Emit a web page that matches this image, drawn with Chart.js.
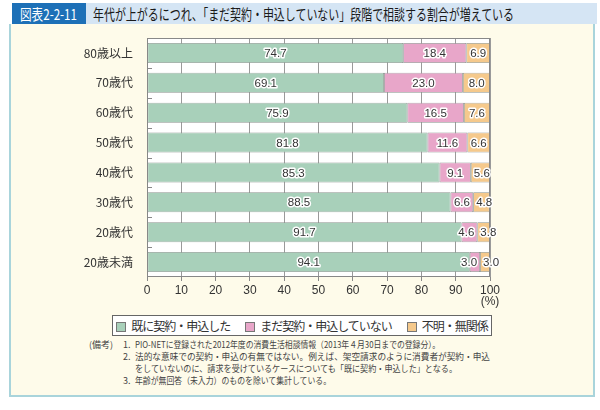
<!DOCTYPE html>
<html>
<head>
<meta charset="utf-8">
<script src="https://cdn.jsdelivr.net/npm/chart.js@4.4.0/dist/chart.umd.min.js"></script>
<style>
body { margin: 0; width: 600px; height: 410px; background: #fff; position: relative; overflow: hidden;
       font-family: "Noto Sans CJK JP", sans-serif; color: #333; }
#hdr { position: absolute; left: 12px; top: 3px; width: 585px; height: 21px; background: #d5e5f4; }
#num { position: absolute; left: 0; top: 0; width: 74px; height: 21px; background: #1d70b7; }
.fit { position: absolute; display: inline-block; white-space: nowrap; transform-origin: left center; }
#num span { left: 8px; top: 0; color: #fff; font-size: 15px; line-height: 21px; }
#ttl { left: 81px; top: 0; font-size: 15px; line-height: 21px; color: #1a1a1a; }
#panel { position: absolute; left: 9px; top: 24px; width: 582px; height: 371px; background: #fefbea;
         border: 2px solid #a9d4db; border-top: none; }
#chartWrap { position: absolute; left: 0; top: 24px; width: 600px; height: 286px; }
#legend { position: absolute; left: 112px; top: 315px; width: 378px; height: 19px; background: #fff;
          border: 1px solid #666; display: flex; align-items: center; justify-content: center; gap: 15px;
          font-size: 12px; letter-spacing: -1px; white-space: nowrap; }
#legend span { white-space: nowrap; flex: none; }
#legend i { display: inline-block; width: 8px; height: 8px; border: 1px solid #777; margin-right: 5px; vertical-align: -1px; }
.note { font-size: 9px; line-height: 12px; color: #444; }
</style>
</head>
<body>
<div id="hdr">
  <div id="num"><span class="fit" data-w="57">図表2-2-11</span></div>
  <span id="ttl" class="fit" data-w="421">年代が上がるにつれ、「まだ契約・申込していない」段階で相談する割合が増えている</span>
</div>
<div id="panel"></div>
<div id="chartWrap"><canvas id="ageChart" width="600" height="286"></canvas></div>
<div id="legend"></div>
<span class="fit note" style="left:89px;top:339px" data-w="24">(備考)</span>
<span class="fit note" style="left:123px;top:339px">1.</span>
<span class="fit note" style="left:135px;top:339px" data-w="305">PIO-NETに登録された2012年度の消費生活相談情報（2013年４月30日までの登録分）。</span>
<span class="fit note" style="left:123px;top:351px">2.</span>
<span class="fit note" style="left:135px;top:351px" data-w="355">法的な意味での契約・申込の有無ではない。例えば、架空請求のように消費者が契約・申込</span>
<span class="fit note" style="left:135px;top:363px" data-w="322">をしていないのに、請求を受けているケースについても「既に契約・申込した」となる。</span>
<span class="fit note" style="left:123px;top:375px">3.</span>
<span class="fit note" style="left:135px;top:375px" data-w="196">年齢が無回答（未入力）のものを除いて集計している。</span>

<script>
// data
const ageGroups = ['80歳以上', '70歳代', '60歳代', '50歳代', '40歳代', '30歳代', '20歳代', '20歳未満'];
const seriesNames = ['既に契約・申込した', 'まだ契約・申込していない', '不明・無関係'];
const contracted = [74.7, 69.1, 75.9, 81.8, 85.3, 88.5, 91.7, 94.1];
const notYet = [18.4, 23.0, 16.5, 11.6, 9.1, 6.6, 4.6, 3.0];
const unknown = [6.9, 8.0, 7.6, 6.6, 5.6, 4.8, 3.8, 3.0];
const seriesColors = ['#a8d0ba', '#e8a6c9', '#f5c98c'];

const numFont = '"Liberation Sans", Arial, sans-serif';

// stretch/squeeze text spans to the widths measured on the figure
function fitTexts() {
    document.querySelectorAll('[data-w]').forEach(el => {
        el.style.transform = 'none';
        let w = el.getBoundingClientRect().width;
        el.style.transform = `scaleX(${el.dataset.w / w})`;
    });
}
fitTexts();
document.fonts.ready.then(fitTexts);

// legend
let legend = document.getElementById('legend');
seriesNames.forEach((name, i) => {
    legend.insertAdjacentHTML('beforeend', `<span><i style="background:${seriesColors[i]}"></i>${name}</span>`);
});

const plotDecor = {
    id: 'plotDecor',
    beforeDraw(chart) {
        let { ctx, chartArea: a } = chart;
        ctx.save();
        ctx.fillStyle = '#fff';
        ctx.fillRect(a.left, a.top, a.width, a.height);
        ctx.restore();
    },
    afterDatasetsDraw(chart) {
        let { ctx, chartArea: a } = chart;
        ctx.save();
        // frame
        ctx.strokeStyle = '#888';
        ctx.lineWidth = 1;
        ctx.strokeRect(a.left + 0.5, a.top + 0.5, a.width - 1, a.height - 1);
        // little marks between the rows
        let n = ageGroups.length;
        ctx.beginPath();
        for (let i = 1; i < n; i++) {
            let y = Math.round(a.top + i * a.height / n) + 0.5;
            ctx.moveTo(a.left, y);
            ctx.lineTo(a.left + 5, y);
        }
        ctx.stroke();

        // value labels
        ctx.font = '11.5px ' + numFont;
        ctx.textBaseline = 'middle';
        ctx.lineJoin = 'round';
        chart.data.datasets.forEach((ds, di) => {
            chart.getDatasetMeta(di).data.forEach((bar, i) => {
                let txt = ds.data[i].toFixed(1);
                let tw = ctx.measureText(txt).width;
                let x0 = Math.min(bar.x, bar.base), x1 = Math.max(bar.x, bar.base);
                let cx = (x0 + x1) / 2;
                ctx.textAlign = 'center';
                // narrow segments: push the labels apart
                if (x1 - x0 < tw + 6 && di == 1) { ctx.textAlign = 'right'; cx = x1 - 3; }
                if (x1 - x0 < tw + 6 && di == 2) { ctx.textAlign = 'left'; cx = x0 + 3; }
                ctx.strokeStyle = '#fff';
                ctx.lineWidth = 3;
                ctx.strokeText(txt, cx, bar.y + 1);
                ctx.fillStyle = '#333';
                ctx.fillText(txt, cx, bar.y + 1);
            });
        });

        // unit under the last tick
        let xs = chart.scales.x;
        ctx.textAlign = 'center';
        ctx.font = '12px ' + numFont;
        ctx.fillStyle = '#333';
        ctx.fillText('(%)', xs.getPixelForValue(100), a.bottom + 25);
        ctx.restore();
    }
};

let datasets = [contracted, notYet, unknown].map((vals, i) => ({
    label: seriesNames[i],
    data: vals,
    backgroundColor: seriesColors[i],
    borderColor: '#8a948f',
    borderWidth: 0.8,
    borderSkipped: false,
    categoryPercentage: 1,
    barPercentage: 0.67
}));

new Chart(document.getElementById('ageChart'), {
    type: 'bar',
    data: { labels: ageGroups, datasets },
    options: {
        indexAxis: 'y',
        responsive: false,
        animation: false,
        layout: { padding: { top: 14, right: 110, left: 0, bottom: 0 } },
        plugins: { legend: { display: false }, tooltip: { enabled: false } },
        scales: {
            x: {
                stacked: true,
                min: 0,
                max: 100,
                ticks: { stepSize: 10, color: '#333', padding: 2, font: { size: 12, family: numFont } },
                grid: { color: '#9a9a9a', borderDash: [2, 2], tickLength: 4, tickBorderDash: [], tickColor: '#888' },
                border: { display: false },
                afterFit: scale => { scale.height = 33; }
            },
            y: {
                stacked: true,
                ticks: { color: '#333', padding: 6, font: { size: 12, family: '"Noto Sans CJK JP", sans-serif' } },
                grid: { display: false },
                border: { display: false },
                afterFit: scale => { scale.width = 147; }
            }
        }
    },
    plugins: [plotDecor]
});
</script>
</body>
</html>
